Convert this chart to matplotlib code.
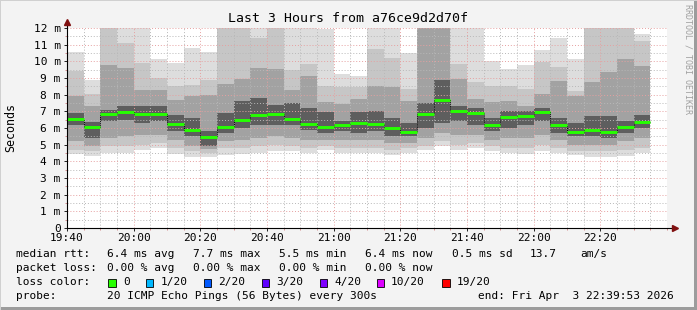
import numpy as np
import matplotlib
matplotlib.use("Agg")
import matplotlib.pyplot as plt
from matplotlib.patches import Rectangle
from matplotlib.ticker import MultipleLocator, FuncFormatter

# one bar per 5 minute step, minutes after 19:40
step_min = 5
n_bars = 35

# ping rtt (ms)
rtt_median = [6.56, 6.06, 6.82, 6.98, 6.82, 6.82, 6.22, 5.88, 5.44, 6.06, 6.46, 6.78,
              6.84, 6.54, 6.26, 6.04, 6.20, 6.28, 6.24, 5.98, 5.76, 6.82, 7.68, 7.02,
              6.92, 6.18, 6.64, 6.74, 6.98, 6.18, 5.76, 5.90, 5.76, 6.04, 6.36]
rtt_min = [4.46, 4.34, 4.52, 4.52, 4.68, 4.82, 4.42, 4.28, 4.28, 4.36, 4.42, 4.48,
           4.64, 4.60, 4.52, 4.68, 4.48, 4.48, 4.48, 4.38, 4.52, 4.68, 4.92, 4.68,
           4.78, 4.62, 4.52, 4.42, 4.64, 4.52, 4.38, 4.28, 4.28, 4.32, 4.48]
rtt_max = [10.56, 8.88, 13.5, 12.5, 12.3, 10.12, 9.92, 10.78, 10.54, 12.6, 12.4, 12.3,
           12.4, 12.2, 12.3, 11.92, 9.24, 9.12, 12.2, 12.3, 10.48, 14.0, 14.0, 12.3,
           12.2, 10.02, 9.54, 9.78, 10.68, 11.4, 10.12, 12.5, 12.5, 12.5, 11.64]
lo1 = [4.70, 4.65, 4.90, 4.90, 5.00, 5.10, 4.80, 4.60, 4.50, 4.80, 4.80, 4.90,
       5.00, 4.90, 4.80, 4.90, 4.80, 4.80, 4.80, 4.70, 4.80, 4.90, 5.20, 5.00,
       5.10, 4.90, 4.80, 4.80, 5.00, 4.80, 4.60, 4.60, 4.60, 4.70, 4.80]
hi1 = [9.40, 8.05, 12.6, 11.1, 9.90, 9.00, 8.50, 8.60, 8.90, 12.3, 12.2, 11.4,
       12.2, 9.50, 9.85, 8.55, 8.45, 8.45, 10.75, 10.2, 8.35, 13.0, 13.0, 9.85,
       8.75, 8.55, 8.55, 8.35, 9.95, 9.65, 8.25, 12.2, 12.2, 12.2, 11.25]
lo2 = [5.20, 4.95, 5.40, 5.50, 5.60, 5.60, 5.30, 4.90, 4.75, 5.20, 5.30, 5.40,
       5.50, 5.40, 5.30, 5.30, 5.30, 5.30, 5.30, 5.10, 5.10, 5.40, 5.70, 5.60,
       5.60, 5.30, 5.40, 5.40, 5.60, 5.30, 5.00, 5.00, 5.00, 5.20, 5.40]
hi2 = [7.90, 7.35, 9.80, 9.60, 8.30, 8.30, 7.70, 7.90, 8.00, 8.66, 8.96, 9.60,
       9.56, 8.30, 9.15, 7.55, 7.45, 7.75, 8.55, 8.45, 7.60, 12.3, 12.5, 8.95,
       7.75, 7.55, 7.65, 7.35, 8.05, 8.85, 7.95, 8.75, 9.35, 10.15, 9.75]
lo3 = [6.20, 5.40, 6.40, 6.50, 6.30, 6.40, 5.80, 5.50, 4.95, 5.70, 6.00, 6.20,
       6.20, 6.20, 5.90, 5.70, 5.80, 5.70, 5.80, 5.50, 5.50, 6.00, 6.30, 6.40,
       6.20, 5.80, 6.00, 6.20, 6.40, 5.70, 5.50, 5.50, 5.40, 5.70, 6.00]
hi3 = [6.90, 6.35, 7.10, 7.30, 7.30, 7.30, 6.80, 6.60, 5.80, 6.90, 7.60, 7.80,
       7.40, 7.50, 7.20, 6.95, 6.40, 6.95, 7.00, 6.60, 6.30, 7.50, 8.90, 7.30,
       7.20, 6.60, 7.00, 7.00, 7.20, 6.60, 6.30, 6.70, 6.70, 6.40, 6.80]

x_ticks = [0, 20, 40, 60, 80, 100, 120, 140, 160]
x_labels = ["19:40", "20:00", "20:20", "20:40", "21:00", "21:20", "21:40", "22:00", "22:20"]

loss_labels = ["0", "1/20", "2/20", "3/20", "4/20", "10/20", "19/20"]
loss_colors = ["#26ff00", "#00b8ff", "#0059ff", "#5e00ff", "#7e00ff", "#dd00ff", "#ff0000"]

W, H = 697, 310
MONO = "DejaVu Sans Mono"
plt.rcParams["font.family"] = MONO

fig = plt.figure(figsize=(W / 100, H / 100), dpi=100, facecolor="#f3f3f3")
ax = fig.add_axes([67 / W, 82 / H, 600 / W, 200 / H])
ax.set_facecolor("white")

x = np.arange(n_bars) * step_min

# smoke: outer band lightest, inner darker
bands = [(rtt_min, rtt_max, "#dddddd"), (lo1, hi1, "#c6c6c6"),
         (lo2, hi2, "#a2a2a2"), (lo3, hi3, "#5e5e5e")]
for lo, hi, col in bands:
    lo = np.array(lo)
    hi = np.array(hi)
    ax.bar(x, hi - lo, bottom=lo, width=step_min, align="edge", color=col, linewidth=0, zorder=1)

edges = np.append(x, x[-1] + step_min)
ax.stairs(rtt_median, edges, baseline=None, color="black", linestyle=(0, (1, 1)),
          linewidth=0.7, zorder=3)
ax.hlines(rtt_median, x, x + step_min, color=loss_colors[0], linewidth=2.1, zorder=4)

ax.set_xlim(0, 180)
ax.set_ylim(0, 12)
ax.xaxis.set_major_locator(MultipleLocator(20))
ax.xaxis.set_minor_locator(MultipleLocator(5))
ax.yaxis.set_major_locator(MultipleLocator(1))
ax.yaxis.set_minor_locator(MultipleLocator(0.5))
ax.set_xticks(x_ticks)
ax.set_xticklabels(x_labels)
ax.yaxis.set_major_formatter(FuncFormatter(lambda v, p: "0" if v == 0 else "%d m" % v))

ax.set_axisbelow(False)
ax.grid(which="major", color="#e6a0a0", linestyle=(0, (1, 2)), linewidth=0.7)
ax.grid(which="minor", color="#b8b8b8", linestyle=(0, (1, 2)), linewidth=0.7)

for s in ax.spines.values():
    s.set_visible(False)
ax.tick_params(which="major", length=2, width=0.6, color="black", labelsize=8, pad=2.5)
ax.tick_params(which="minor", length=1.5, width=0.6, color="#d08080")
ax.tick_params(axis="x", which="major", pad=1.5)

# axis lines with arrowheads
ax.plot([0, 0], [0, 1.03], transform=ax.transAxes, color="black", lw=0.8, clip_on=False, zorder=5)
ax.plot([0, 1.013], [0, 0], transform=ax.transAxes, color="black", lw=0.8, clip_on=False, zorder=5)
ax.plot([0], [1.03], transform=ax.transAxes, marker="^", color="#801010", ms=4, clip_on=False, zorder=6)
ax.plot([1.013], [0], transform=ax.transAxes, marker=">", color="#801010", ms=4, clip_on=False, zorder=6)

fig.text(0.5, 1 - 19 / H, "Last 3 Hours from a76ce9d2d70f", ha="center", va="center", fontsize=9.5)
fig.text(11 / W, 1 - 128 / H, "Seconds", rotation=90, ha="center", va="center", fontsize=8.4)
fig.text(688 / W, 1 - 59 / H, "RRDTOOL / TOBI OETIKER", rotation=270, ha="center", va="center",
         fontsize=6, color="#a0a0a0")

def put(xp, yp, s):
    fig.text(xp / W, 1 - yp / H, s, ha="left", va="center", fontsize=8)

y1, y2, y3, y4 = 254.3, 268, 282, 296
put(16, y1, "median rtt:")
put(107, y1, "6.4 ms avg")
put(193, y1, "7.7 ms max")
put(279, y1, "5.5 ms min")
put(365, y1, "6.4 ms now")
put(451.5, y1, "0.5 ms sd")
put(530, y1, "13.7")
put(580, y1, "am/s")
put(16, y2, "packet loss:")
put(107, y2, "0.00 % avg")
put(193, y2, "0.00 % max")
put(279, y2, "0.00 % min")
put(365, y2, "0.00 % now")
put(16, y3, "loss color:")
box_x = [108.3, 146, 204, 261.7, 320, 376.7, 442.3]
for bx, lab, col in zip(box_x, loss_labels, loss_colors):
    fig.patches.append(Rectangle((bx / W, (H - 286.7) / H), 7.4 / W, 7.4 / H,
                                 transform=fig.transFigure, facecolor=col,
                                 edgecolor="black", linewidth=0.6))
    put(bx + 14.5, y3, lab)
put(16, y4, "probe:")
put(107, y4, "20 ICMP Echo Pings (56 Bytes) every 300s")
put(478, y4, "end: Fri Apr  3 22:39:53 2026")

# image frame
fig.patches.append(Rectangle((0, 0), 1, 3 / H, transform=fig.transFigure, facecolor="#9c9c9c", lw=0))
fig.patches.append(Rectangle((1 - 3 / W, 0), 3 / W, 1, transform=fig.transFigure, facecolor="#9c9c9c", lw=0))
fig.patches.append(Rectangle((0, 1 - 1 / H), 1, 1 / H, transform=fig.transFigure, facecolor="#d0d0d0", lw=0))
fig.patches.append(Rectangle((0, 0), 1 / W, 1, transform=fig.transFigure, facecolor="#d0d0d0", lw=0))

fig.savefig("out.png", dpi=100, facecolor=fig.get_facecolor())
